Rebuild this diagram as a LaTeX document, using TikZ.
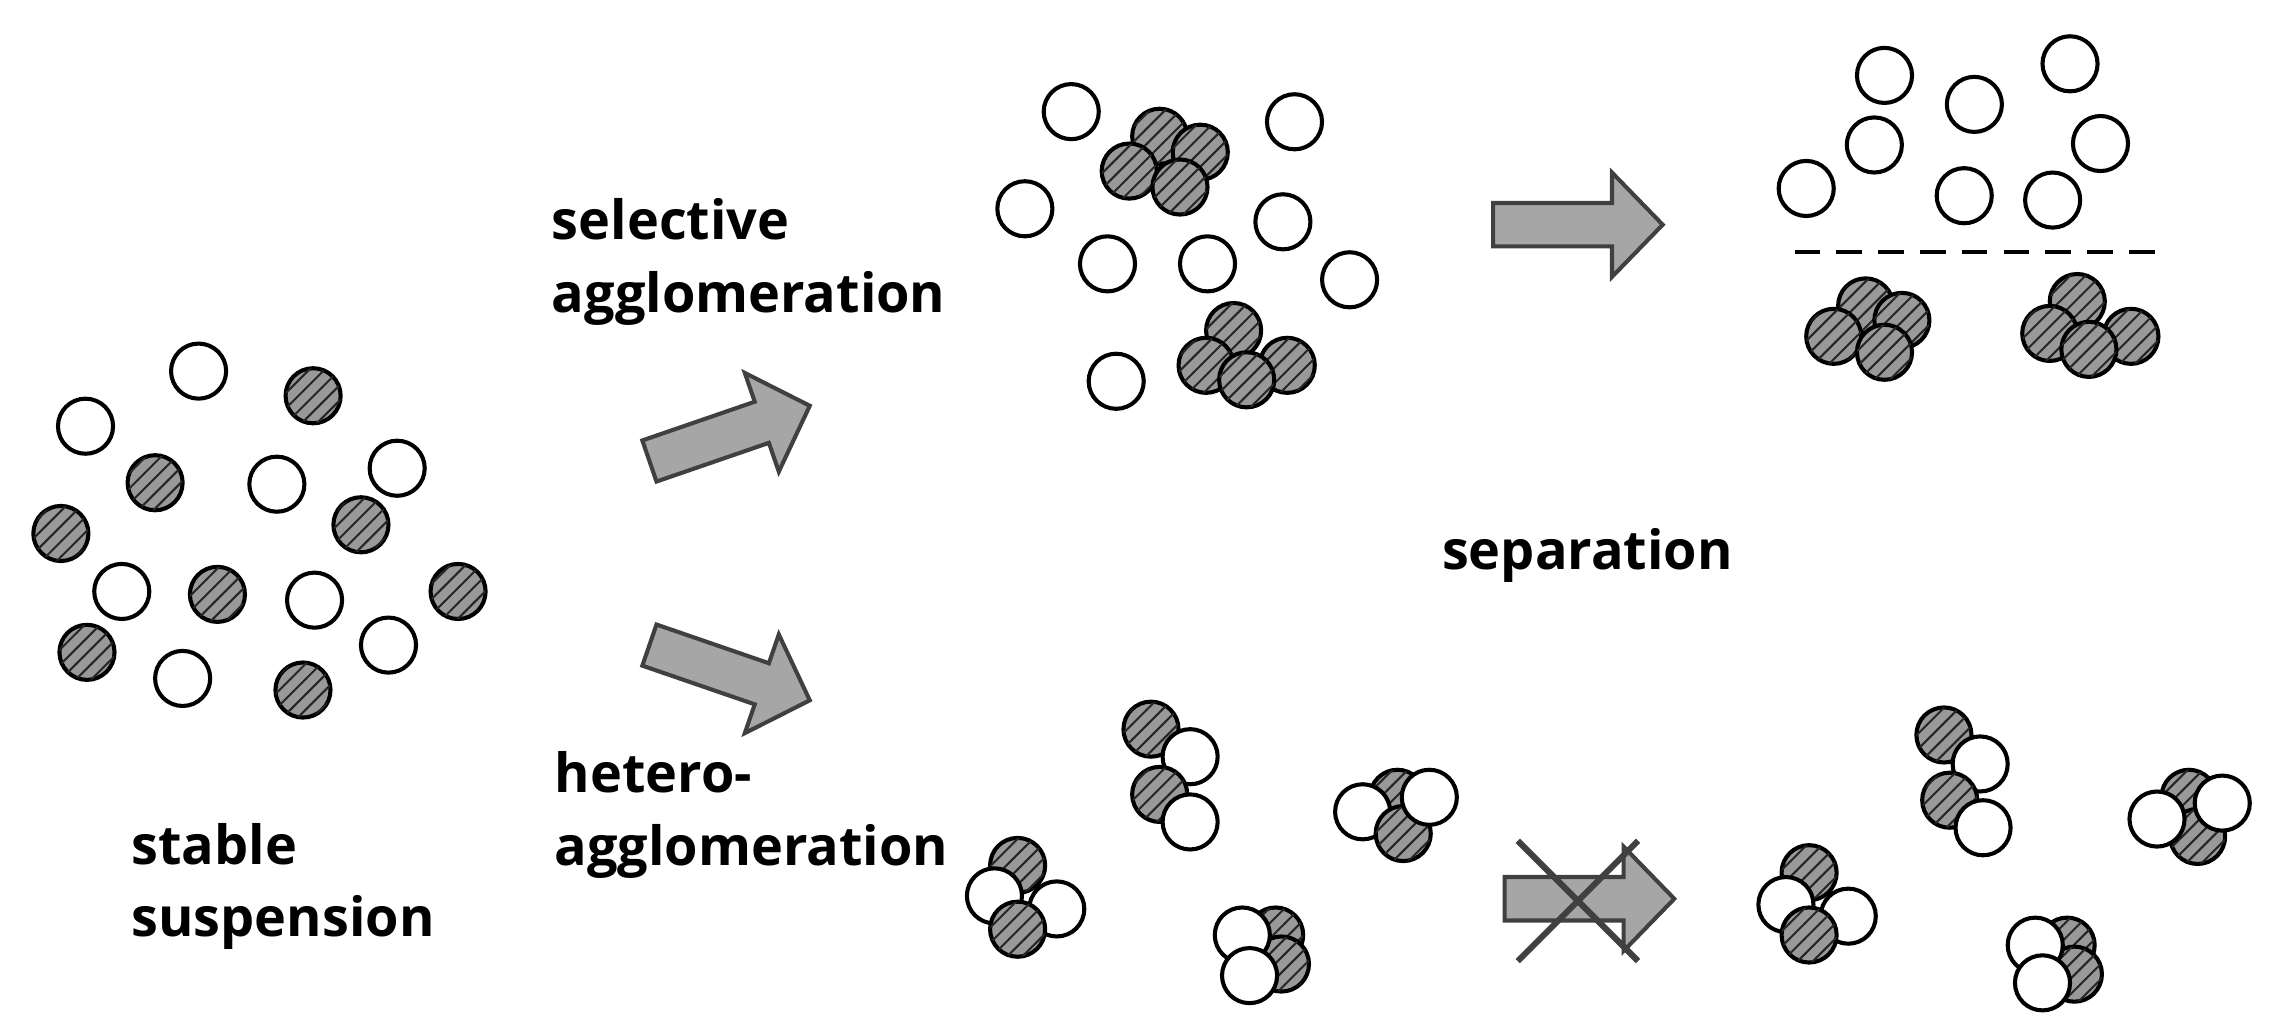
\documentclass[tikz,border=0pt]{standalone}
\usepackage{fontspec}
\setmainfont{Open Sans}
\usetikzlibrary{patterns}

\tikzset{
  wp/.style={draw=black,thick,fill=white},
  hp/.style={draw=black,thick,fill=gray!80,postaction={pattern=north east lines,pattern color=black!85}},
  lbl/.style={font=\fontsize{10.6}{14.3}\selectfont\bfseries,align=left,anchor=north west,inner sep=0pt},
  barrow/.style={draw=black!75,thick,fill=gray!70}
}
\newcommand{\wpart}[1]{\foreach \p in {#1}{\draw[wp] \p circle (19);}}
\newcommand{\hpart}[1]{\foreach \p in {#1}{\draw[hp] \p circle (19);}}
\newcommand{\blockarrow}[3]{% x,y,angle
  \draw[barrow,shift={(#1,#2)},rotate=#3] (0,-15)--(82,-15)--(82,-36)--(117,0)--(82,36)--(82,15)--(0,15)--cycle;}

\begin{document}
\begin{tikzpicture}[x=0.01cm,y=-0.01cm]
\useasboundingbox (0,0) rectangle (1568,711);

% stable suspension
\wpart{(59,294),(137,256),(191,334),(274,323),(84,408),(217,414),(268,445),(126,468)}
\hpart{(216,273),(107,333),(42,368),(249,362),(150,410),(316,408),(60,450),(209,476)}

% selective agglomeration
\wpart{(739,77),(893,84),(707,144),(885,153),(764,182),(833,182),(931,193),(770,263)}
\hpart{(800,94),(828,105),(779,118),(814,129)}
\hpart{(851,228),(832,252),(888,252),(860,262)}

% separated
\wpart{(1300,52),(1428,44),(1362,72),(1293,100),(1449,99),(1246,130),(1355,135),(1416,138)}
\draw[thick,dash pattern=on 5pt off 3.2pt] (1238,174) -- (1495,174);
\hpart{(1287,211),(1312,221),(1265,232),(1300,243)}
\hpart{(1433,208),(1414,230),(1470,232),(1441,241)}

% hetero-agglomeration
\hpart{(794,503)}\wpart{(821,522)}\hpart{(800,548)}\wpart{(821,567)}
\hpart{(964,550)}\wpart{(940,560)}\hpart{(968,575)}\wpart{(986,550)}
\hpart{(702,597)}\wpart{(686,618)}\wpart{(729,627)}\hpart{(702,641)}
\hpart{(880,645)}\hpart{(884,665)}\wpart{(857,645)}\wpart{(862,673)}

% not separated
\hpart{(1341,507)}\wpart{(1366,527)}\hpart{(1345,552)}\wpart{(1368,571)}
\hpart{(1510,550)}\hpart{(1516,577)}\wpart{(1488,565)}\wpart{(1533,554)}
\hpart{(1248,602)}\wpart{(1232,624)}\wpart{(1275,632)}\hpart{(1248,645)}
\hpart{(1426,652)}\hpart{(1431,672)}\wpart{(1404,652)}\wpart{(1409,678)}

% arrows
\blockarrow{448}{318}{19}
\blockarrow{448}{445}{-19}
\blockarrow{1030}{155}{0}
\blockarrow{1038}{620}{0}
\draw[very thick,black!75] (1047,580) -- (1130,663);
\draw[very thick,black!75] (1130,580) -- (1047,663);

% labels
\node[lbl] (sel) at (380,136) {selective\\agglomeration};
\node[lbl] (het) at (382,518) {hetero-\\agglomeration};
\node[lbl] (sta) at (90,567) {stable\\suspension};
\node[lbl,anchor=center] (sep) at (1095,383) {separation};
\end{tikzpicture}
\end{document}
